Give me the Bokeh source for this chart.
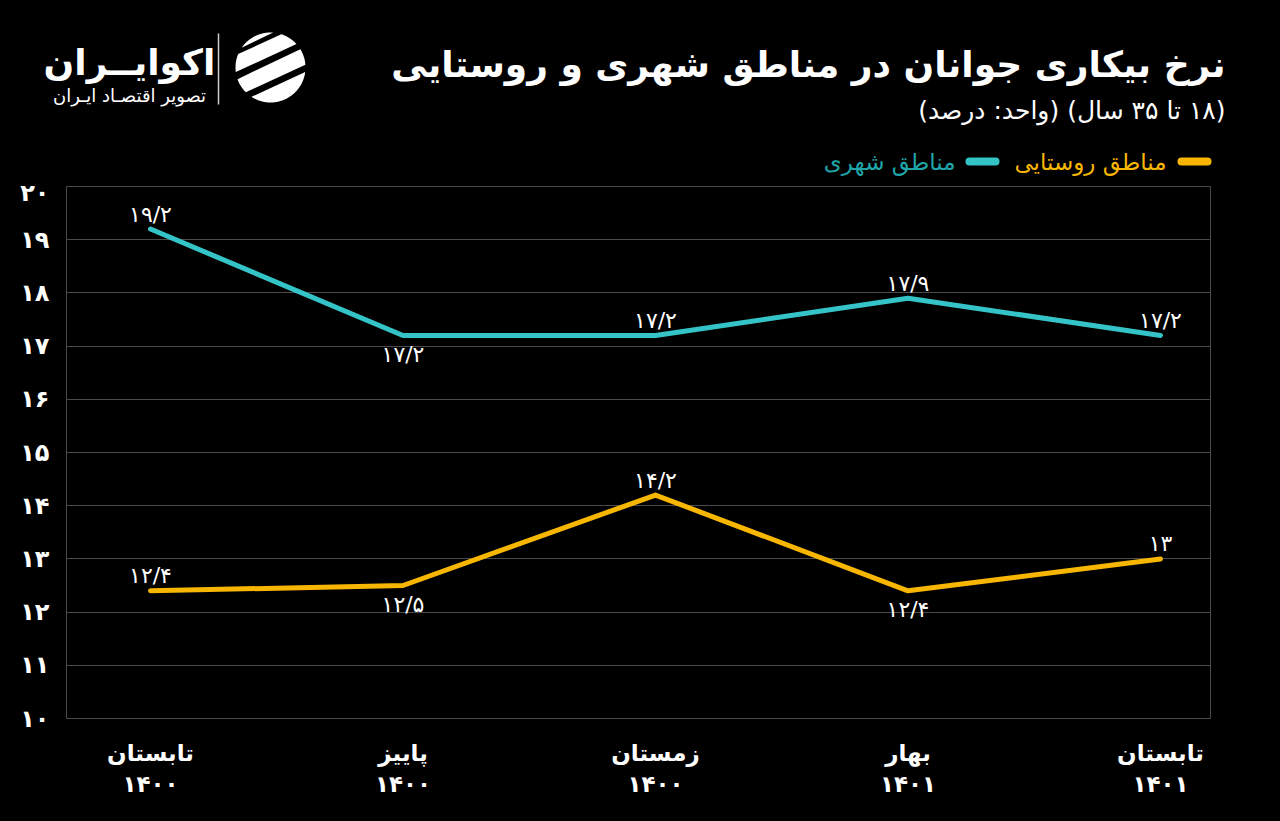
import numpy as np
from bokeh.plotting import figure
from bokeh.layouts import column
from bokeh.models import FixedTicker, ColumnDataSource, Range1d
from bokeh.embed import file_html
from bokeh.resources import INLINE
from bokeh.core.properties import value

# ---------------- data ----------------
seasons = ["تابستان", "پاییز", "زمستان", "بهار", "تابستان"]
years = ["۱۴۰۰", "۱۴۰۰", "۱۴۰۰", "۱۴۰۱", "۱۴۰۱"]
urban = [19.2, 17.2, 17.2, 17.9, 17.2]      # مناطق شهری
rural = [12.4, 12.5, 14.2, 12.4, 13.0]      # مناطق روستایی
y_ticks = list(range(10, 21))
urban_label_side = ["above", "below", "above", "above", "above"]
rural_label_side = ["above", "below", "above", "below", "above"]

title_text = "نرخ بیکاری جوانان در مناطق شهری و روستایی"
subtitle_text = "\u202b(۱۸ تا ۳۵ سال) (واحد: درصد)\u202c"
urban_name = "مناطق شهری"
rural_name = "مناطق روستایی"
brand = "اکوایــران"
brand_sub = "تصویر اقتصـاد ایـران"

FA = str.maketrans("0123456789.", "۰۱۲۳۴۵۶۷۸۹/")


def fa(v):
    return ("%g" % v).translate(FA)


# ---------------- layout ----------------
W, H = 1280, 821
HEAD = 178                               # header strip height
L, R, T, B = 66, 1210, 186, 718          # chart frame in page pixels
first_px, last_px = 150, 1160
step = (last_px - first_px) / (len(seasons) - 1)
X0 = -(first_px - L) / step
X1 = (len(seasons) - 1) + (R - last_px) / step
Y0, Y1 = 10, 20

FONT = "DejaVu Sans"
TEAL = "#34c4c7"
TEAL_TXT = "#1fa6a8"
YELLOW = "#f7b602"
GRID = "#4a4a4a"

# ---------------- header figure ----------------
hp = figure(width=W, height=HEAD, x_range=Range1d(0, W), y_range=Range1d(HEAD, 0),
            output_backend="svg", toolbar_location=None,
            x_axis_type=None, y_axis_type=None, min_border=0, frame_align=False,
            styles={"background-color": "black"})
hp.background_fill_color = "black"
hp.border_fill_color = "black"
hp.outline_line_color = "black"
hp.outline_line_alpha = 0
hp.grid.visible = False


def htext(x, y, text, size, color="white", align="right", style="normal"):
    hp.text(x=[x], y=[y], text=[text], text_align=align, text_baseline="middle",
            text_color=color, text_font=value(FONT), text_font_size=size,
            text_font_style=style)


htext(1225, 64, title_text, "36px", style="bold")
htext(1225, 110, subtitle_text, "25px")

# legend
hp.segment(x0=[1181], x1=[1207], y0=[161], y1=[161], line_color=YELLOW,
           line_width=8, line_cap="round")
htext(1166, 161, rural_name, "23px", color=YELLOW)
hp.segment(x0=[969], x1=[995], y0=[161], y1=[161], line_color=TEAL,
           line_width=8, line_cap="round")
htext(955, 161, urban_name, "23px", color=TEAL_TXT)

# logo
htext(129, 62, brand, "36px", align="center", style="bold")
htext(129, 95, brand_sub, "18px", align="center")
hp.segment(x0=[218], x1=[218], y0=[33], y1=[104], line_color="#cccccc", line_width=1.5)

# logo icon: disk split into slanted bands
cx, cy, rad = 270, 67, 35
ang = np.linspace(0, 2 * np.pi, 240, endpoint=False)
px_c = cx + rad * np.cos(ang)
py_c = cy - rad * np.sin(ang)
theta = np.deg2rad(115)
u = np.cos(ang) * np.cos(theta) + np.sin(ang) * np.sin(theta)
band_xs, band_ys = [], []
for lo, hi in ((-1.0, -0.52), (-0.36, 0.12), (0.28, 0.74), (0.86, 1.0)):
    m = (u >= lo) & (u <= hi)
    if m.sum() >= 3:
        band_xs.append(list(px_c[m]))
        band_ys.append(list(py_c[m]))
hp.patches(band_xs, band_ys, fill_color="white", line_color=None)

# ---------------- chart figure ----------------
CH = H - HEAD
p = figure(width=W, height=CH, x_range=Range1d(X0, X1), y_range=Range1d(Y0, Y1),
           output_backend="svg", toolbar_location=None, frame_align=False,
           min_border_left=L, min_border_right=W - R,
           min_border_top=T - HEAD, min_border_bottom=H - B,
           styles={"background-color": "black"})
p.background_fill_color = "black"
p.border_fill_color = "black"
p.outline_line_color = GRID
p.outline_line_width = 1

idx = list(range(len(seasons)))

p.xaxis.ticker = FixedTicker(ticks=idx)
p.xaxis.major_label_overrides = {i: seasons[i] + "\n" + years[i] for i in idx}
p.xaxis.axis_line_color = None
p.xaxis.major_tick_line_color = None
p.xaxis.minor_tick_line_color = None
p.xaxis.major_label_text_color = "white"
p.xaxis.major_label_text_font = FONT
p.xaxis.major_label_text_font_size = "23px"
p.xaxis.major_label_text_font_style = "bold"
p.xaxis.major_label_text_line_height = 1.2
p.xaxis.major_label_standoff = 15

p.yaxis.ticker = FixedTicker(ticks=y_ticks)
p.yaxis.major_label_overrides = {t: fa(t) for t in y_ticks}
p.yaxis.axis_line_color = None
p.yaxis.major_tick_line_color = None
p.yaxis.minor_tick_line_color = None
p.yaxis.major_label_text_color = "white"
p.yaxis.major_label_text_font = FONT
p.yaxis.major_label_text_font_size = "24px"
p.yaxis.major_label_text_font_style = "bold"
p.yaxis.major_label_standoff = 11

p.xgrid.grid_line_color = None
p.ygrid.grid_line_color = GRID
p.ygrid.grid_line_width = 1

p.line(idx, urban, line_color=TEAL, line_width=5, line_cap="round", line_join="round")
p.line(idx, rural, line_color=YELLOW, line_width=5, line_cap="round", line_join="round")


def label_source(vals, sides):
    return ColumnDataSource(dict(
        x=idx, y=vals, t=[fa(v) for v in vals],
        yo=[-15 if s == "above" else 19 for s in sides]))


for vals, sides in ((urban, urban_label_side), (rural, rural_label_side)):
    p.text(x="x", y="y", text="t", y_offset="yo", source=label_source(vals, sides),
           text_color="white", text_font=value(FONT), text_font_size="22px",
           text_align="center", text_baseline="middle")

page = column(hp, p, spacing=0, styles={"background-color": "black"})
open("out.html", "w").write(file_html(page, INLINE))
